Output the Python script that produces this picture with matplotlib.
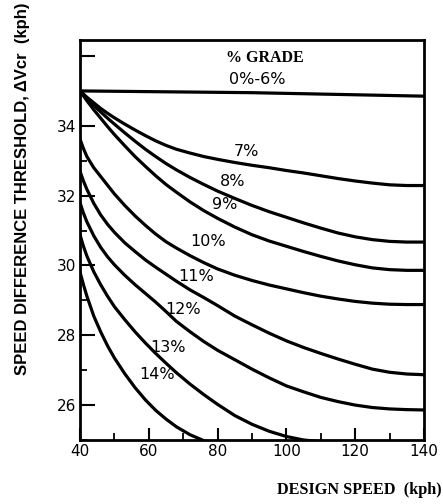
import matplotlib.pyplot as plt
from matplotlib.ticker import MultipleLocator, FixedLocator

# curvas (velocidad de diseno, umbral de diferencia de velocidad)
x_0_6 = [40, 90, 140]
y_0_6 = [35.0, 34.95, 34.85]

x_7 = [40, 42, 44, 46, 48, 50, 53, 56, 59, 62, 65, 68, 72, 76, 80, 85, 90, 95,
       100, 105, 110, 115, 120, 125, 130, 135, 140]
y_7 = [35.0, 34.82, 34.66, 34.5, 34.36, 34.23, 34.05, 33.88, 33.72, 33.57, 33.44,
       33.33, 33.22, 33.12, 33.04, 32.95, 32.87, 32.8, 32.72, 32.65, 32.57, 32.49,
       32.42, 32.36, 32.31, 32.29, 32.29]

x_8 = [40, 42, 44, 46, 48, 50, 53, 56, 59, 62, 65, 68, 72, 76, 80, 85, 90, 95,
       100, 105, 110, 115, 120, 125, 130, 135, 140]
y_8 = [35.0, 34.78, 34.58, 34.4, 34.22, 34.05, 33.8, 33.56, 33.33, 33.12, 32.92,
       32.74, 32.52, 32.32, 32.13, 31.92, 31.72, 31.54, 31.38, 31.22, 31.07, 30.93,
       30.82, 30.74, 30.69, 30.67, 30.67]

x_9 = [40, 42, 44, 46, 48, 50, 53, 56, 59, 62, 65, 68, 72, 76, 80, 85, 90, 95,
       100, 105, 110, 115, 120, 125, 130, 135, 140]
y_9 = [35.0, 34.72, 34.46, 34.22, 33.98, 33.75, 33.43, 33.12, 32.84, 32.57, 32.32,
       32.1, 31.82, 31.57, 31.35, 31.1, 30.88, 30.7, 30.55, 30.4, 30.26, 30.13,
       30.02, 29.93, 29.88, 29.86, 29.86]

x_10 = [40, 41, 42, 44, 46, 48, 50, 53, 56, 59, 62, 65, 68, 72, 76, 80, 85, 90,
        95, 100, 105, 110, 115, 120, 125, 130, 135, 140]
y_10 = [33.62, 33.35, 33.12, 32.8, 32.55, 32.3, 32.05, 31.72, 31.42, 31.15, 30.9,
        30.68, 30.5, 30.28, 30.08, 29.9, 29.72, 29.57, 29.44, 29.33, 29.22, 29.12,
        29.04, 28.97, 28.92, 28.89, 28.88, 28.88]

x_11 = [40, 41, 42, 44, 46, 48, 50, 53, 56, 59, 62, 65, 68, 72, 76, 80, 85, 90,
        95, 100, 105, 110, 115, 120, 125, 130, 135, 140]
y_11 = [32.7, 32.42, 32.18, 31.78, 31.45, 31.18, 30.95, 30.65, 30.4, 30.16, 29.95,
        29.75, 29.55, 29.3, 29.08, 28.85, 28.55, 28.3, 28.06, 27.84, 27.65, 27.48,
        27.32, 27.17, 27.03, 26.94, 26.89, 26.87]

x_12 = [40, 41, 42, 44, 46, 48, 50, 53, 56, 59, 62, 65, 68, 72, 76, 80, 85, 90,
        95, 100, 105, 110, 115, 120, 125, 130, 135, 140]
y_12 = [31.8, 31.5, 31.25, 30.85, 30.52, 30.25, 30.02, 29.72, 29.45, 29.2, 28.95,
        28.68, 28.4, 28.1, 27.82, 27.57, 27.3, 27.03, 26.78, 26.55, 26.38, 26.22,
        26.1, 26.0, 25.93, 25.89, 25.87, 25.86]

x_13 = [40, 41, 42, 44, 46, 48, 50, 53, 56, 59, 62, 65, 68, 72, 76, 80, 85, 90,
        95, 100, 105, 110]
y_13 = [30.88, 30.55, 30.27, 29.82, 29.45, 29.12, 28.82, 28.45, 28.1, 27.78, 27.48,
        27.2, 26.93, 26.6, 26.3, 26.02, 25.7, 25.45, 25.25, 25.1, 25.0, 24.95]

x_14 = [40, 41, 42, 44, 46, 48, 50, 53, 56, 59, 62, 65, 68, 72, 76, 78]
y_14 = [29.81, 29.45, 29.12, 28.55, 28.1, 27.7, 27.35, 26.9, 26.5, 26.15, 25.85,
        25.6, 25.38, 25.15, 24.98, 24.93]

curvas = [(x_0_6, y_0_6), (x_7, y_7), (x_8, y_8), (x_9, y_9), (x_10, y_10),
          (x_11, y_11), (x_12, y_12), (x_13, y_13), (x_14, y_14)]

etiquetas = ['0%-6%', '7%', '8%', '9%', '10%', '11%', '12%', '13%', '14%']
etiqueta_x = [91.5, 88.5, 84.5, 82.2, 77.2, 73.7, 70.0, 65.6, 62.4]
etiqueta_y = [35.1, 33.05, 32.18, 31.52, 30.46, 29.48, 28.52, 27.43, 26.65]

x_ticks = [40, 60, 80, 100, 120, 140]
y_ticks = [26, 28, 30, 32, 34, 36]
y_tick_labels = ['26', '28', '30', '32', '34', '']

fig = plt.figure(figsize=(4.43, 5.04), dpi=100)
ax = fig.add_axes([0.1806, 0.127, 0.7765, 0.7937])

for xs, ys in curvas:
    ax.plot(xs, ys, color='black', linewidth=2.3, solid_joinstyle='round', solid_capstyle='butt')

for texto, tx, ty in zip(etiquetas, etiqueta_x, etiqueta_y):
    ax.text(tx, ty, texto, fontsize=11.5, ha='center', va='bottom', family='DejaVu Sans')

ax.text(93.8, 35.95, '% GRADE', fontsize=11.5, ha='center', va='center',
        family='Liberation Serif', weight='bold')

ax.set_xlim(40, 140)
ax.set_ylim(25, 36.46)

ax.xaxis.set_major_locator(FixedLocator(x_ticks))
ax.xaxis.set_minor_locator(MultipleLocator(10))
ax.yaxis.set_major_locator(FixedLocator(y_ticks))
ax.yaxis.set_minor_locator(MultipleLocator(1))
ax.set_yticklabels(y_tick_labels)

ax.tick_params(which='major', direction='in', length=11, width=1.5, labelsize=11, pad=3)
ax.tick_params(which='minor', direction='in', length=5, width=1.3)
ax.tick_params(axis='x', which='major', length=9)
for lab in ax.get_xticklabels() + ax.get_yticklabels():
    lab.set_family('DejaVu Sans')

for spine in ax.spines.values():
    spine.set_linewidth(2)

fig.text(0.05, 0.996, 'SPEED DIFFERENCE THRESHOLD, \u0394Vcr  (kph)', rotation=90,
         ha='center', va='top', fontsize=12, weight='bold', family='Liberation Sans')
fig.text(0.998, 0.028, 'DESIGN SPEED  (kph)', ha='right', va='center', fontsize=11.7,
         weight='bold', family='Liberation Serif')

plt.savefig('out.png', dpi=100)
